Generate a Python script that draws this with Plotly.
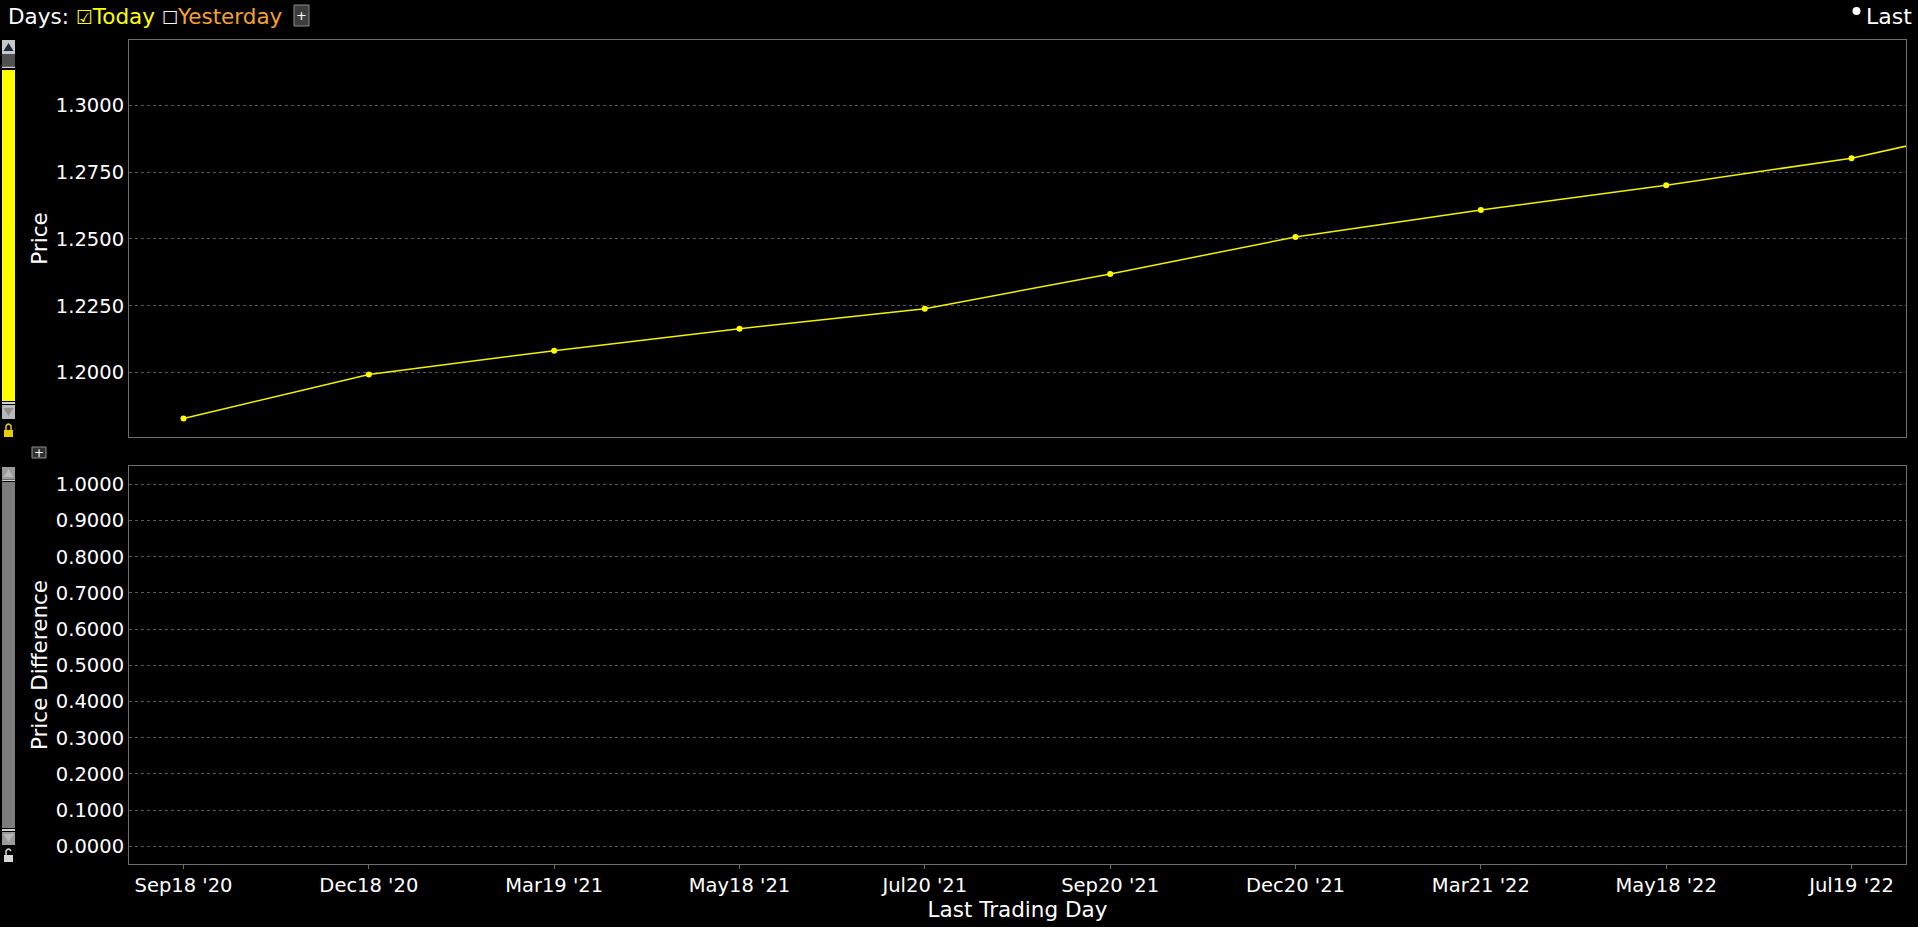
import plotly.graph_objects as go
from plotly.subplots import make_subplots

# ---- data ----
last_trading_day = ["Sep18 '20", "Dec18 '20", "Mar19 '21", "May18 '21", "Jul20 '21",
                    "Sep20 '21", "Dec20 '21", "Mar21 '22", "May18 '22", "Jul19 '22",
                    "Sep19 '22"]
price_today = [1.1828, 1.1993, 1.2082, 1.2164, 1.2239,
               1.2369, 1.2507, 1.2608, 1.2701, 1.2802,
               1.2955]
price_difference = []  # no difference series plotted (yesterday unchecked)

W, H = 1918, 927
ML, MR, MT, MB = 129, 12, 40, 63
PW, PH = W - ML - MR, H - MT - MB


def px(x):
    return (x - ML) / PW


def py(y):
    return (H - MB - y) / PH


FONT = "DejaVu Sans"
GRID = "#585858"
FRAME = "#6e6e6e"
TICK_SIZE = 19.5
TITLE_SIZE = 21.5

fig = make_subplots(rows=2, cols=1, shared_xaxes=True, vertical_spacing=0.0)

fig.add_trace(go.Scatter(
    x=last_trading_day, y=price_today, mode="lines+markers",
    line=dict(color="#f2f200", width=1.5),
    marker=dict(color="#ffff00", size=6),
    name="Today", showlegend=False, cliponaxis=True,
), row=1, col=1)

fig.add_trace(go.Scatter(
    x=[], y=price_difference, mode="lines", showlegend=False,
    line=dict(color="#ffff00"),
), row=2, col=1)

n_show = 10
common_x = dict(
    type="category", categoryorder="array", categoryarray=last_trading_day,
    range=[-0.294, n_show - 1 + 0.294],
    showgrid=False, showline=True, linecolor=FRAME, linewidth=1, mirror=True,
    zeroline=False,
)
fig.update_layout(
    xaxis=dict(**common_x, showticklabels=False, ticks=""),
    xaxis2=dict(**common_x, ticks="outside", ticklen=4, tickcolor=FRAME,
                tickfont=dict(family=FONT, size=TICK_SIZE, color="white"),
                title=dict(text="Last Trading Day", standoff=4,
                           font=dict(family=FONT, size=TITLE_SIZE, color="white"))),
    yaxis=dict(domain=[py(437), 1.0], range=[1.1759, 1.3244], tick0=1.2, dtick=0.025,
               tickformat=".4f", showgrid=True, gridcolor=GRID, griddash="dot",
               showline=True, linecolor=FRAME, mirror=True, zeroline=False, ticks="",
               tickfont=dict(family=FONT, size=TICK_SIZE, color="white"),
               title=dict(text="Price", standoff=2,
                          font=dict(family=FONT, size=TITLE_SIZE, color="white"))),
    yaxis2=dict(domain=[0.0, py(466)], range=[-0.0486, 1.0505], tick0=0, dtick=0.1,
                tickformat=".4f", showgrid=True, gridcolor=GRID, griddash="dot",
                showline=True, linecolor=FRAME, mirror=True, zeroline=False, ticks="",
                tickfont=dict(family=FONT, size=TICK_SIZE, color="white"),
                title=dict(text="Price Difference", standoff=2,
                           font=dict(family=FONT, size=TITLE_SIZE, color="white"))),
    width=W, height=H,
    margin=dict(l=ML, r=MR, t=MT, b=MB, autoexpand=False),
    paper_bgcolor="black", plot_bgcolor="black",
    font=dict(family=FONT, color="white"),
)

shapes = []
annotations = []


def rect(x0, y0, x1, y1, fill, line=None, lw=0):
    shapes.append(dict(type="rect", xref="paper", yref="paper",
                       x0=px(x0), x1=px(x1), y0=py(y1), y1=py(y0),
                       fillcolor=fill, line=dict(color=line or fill, width=lw),
                       layer="above"))


def tri(xc, yc, up, color):
    h = 4
    if up:
        path = f"M {px(xc-5)} {py(yc+h)} L {px(xc+5)} {py(yc+h)} L {px(xc)} {py(yc-h)} Z"
    else:
        path = f"M {px(xc-5)} {py(yc-h)} L {px(xc+5)} {py(yc-h)} L {px(xc)} {py(yc+h)} Z"
    shapes.append(dict(type="path", xref="paper", yref="paper", path=path,
                       fillcolor=color, line=dict(color=color, width=0), layer="above"))


# top scrollbar (yellow)
rect(2, 40, 15, 54, "#c8c8c8")
tri(8.5, 47, True, "#1c2a40")
rect(2, 54, 15, 66, "#505050")
rect(2, 66.5, 15, 68, "#d0d0d0")
rect(2, 70, 15, 401, "#ffff00")
rect(2, 402, 15, 404, "#d0d0d0")
rect(2, 405, 15, 419, "#b8b8b8")
tri(8.5, 412, False, "#909090")
# lock icon (yellow)
rect(4, 430, 13, 437, "#e8d000")
shapes.append(dict(type="path", xref="paper", yref="paper",
                   path=f"M {px(6)} {py(430)} L {px(6)} {py(426)} Q {px(8.5)} {py(422)} {px(11)} {py(426)} L {px(11)} {py(430)}",
                   line=dict(color="#e8d000", width=1.5), layer="above"))

# small + button between panels
rect(32, 447, 46, 458, "#303030", "#909090", 1)
annotations.append(dict(text="+", x=px(39), y=py(452.5), xref="paper", yref="paper",
                        showarrow=False, font=dict(family=FONT, size=12, color="white"),
                        xanchor="center", yanchor="middle"))

# bottom scrollbar (gray)
rect(2, 467, 15, 479, "#9a9a9a")
tri(8.5, 473, True, "#b8b8b8")
rect(2, 479.5, 15, 481, "#d0d0d0")
rect(2, 482, 15, 828, "#7c7c7c")
rect(2, 829, 15, 831, "#d0d0d0")
rect(2, 832, 15, 845, "#9a9a9a")
tri(8.5, 838, False, "#b8b8b8")
# unlock icon
rect(4, 855, 13, 862, "#d8d8d8")
shapes.append(dict(type="path", xref="paper", yref="paper",
                   path=f"M {px(6)} {py(855)} L {px(6)} {py(851)} Q {px(8.5)} {py(847)} {px(11)} {py(851)}",
                   line=dict(color="#d8d8d8", width=1.5), layer="above"))

# header: Days: [x]Today [ ]Yesterday [+]
annotations.append(dict(
    text=("<span style='color:white'>Days: </span>"
          "<span style='color:#ffff00;font-size:19px'>\u2611</span>"
          "<span style='color:#ffff00'>Today </span>"
          "<span style='color:white;font-size:18px'>\u2610</span>"
          "<span style='color:#f5a030'>Yesterday</span>"),
    x=px(6), y=py(16), xref="paper", yref="paper", showarrow=False,
    xanchor="left", yanchor="middle", font=dict(family=FONT, size=21.5, color="white")))
rect(294, 5, 309, 26, "#3c3c3c", "#8a8a8a", 1)
annotations.append(dict(text="+", x=px(301.5), y=py(15.5), xref="paper", yref="paper",
                        showarrow=False, font=dict(family=FONT, size=13, color="white"),
                        xanchor="center", yanchor="middle"))

# legend "Last" top right
shapes.append(dict(type="circle", xref="paper", yref="paper",
                   x0=px(1852.5), x1=px(1860.5), y0=py(15), y1=py(7),
                   fillcolor="white", line=dict(color="white", width=0)))
annotations.append(dict(text="Last", x=px(1864), y=py(17), xref="paper", yref="paper",
                        showarrow=False, xanchor="left", yanchor="middle",
                        font=dict(family=FONT, size=22, color="white")))

fig.update_layout(shapes=shapes, annotations=annotations)

fig.write_html("out.html",
               config={"displayModeBar": False},
               post_script="document.body.style.margin='0';document.body.style.background='black';document.body.style.overflow='hidden';")
